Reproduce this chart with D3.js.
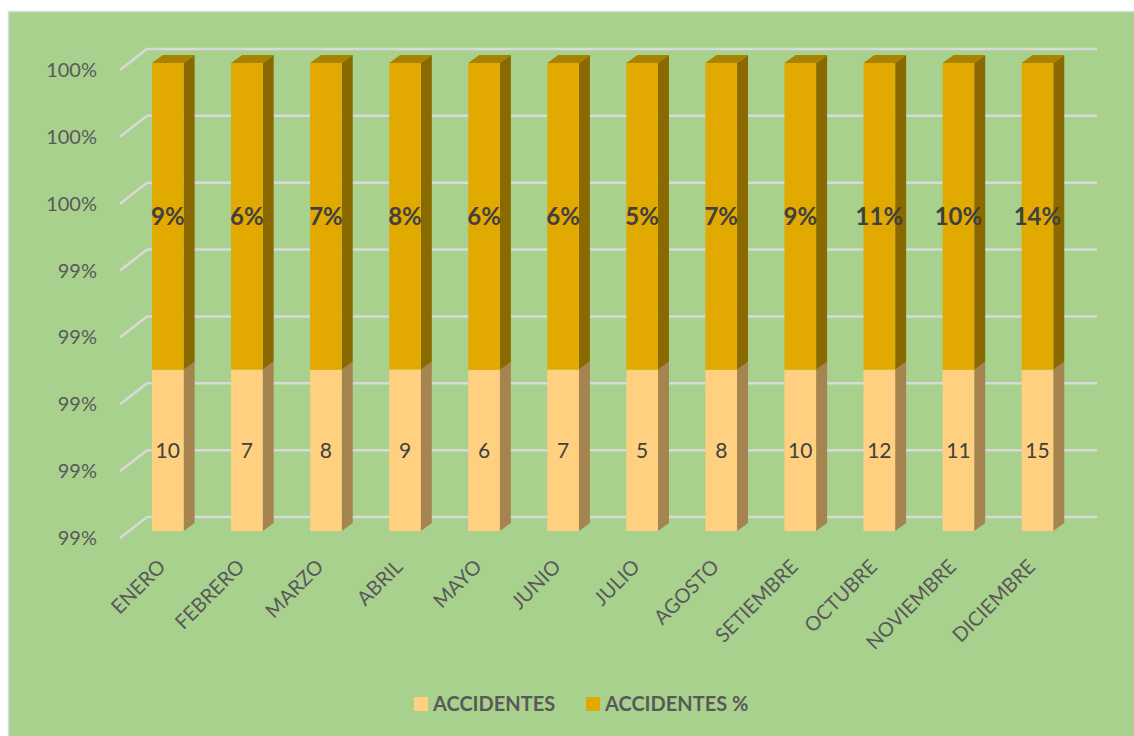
<!DOCTYPE html>
<html>
<head>
<meta charset="utf-8">
<script src="https://cdn.jsdelivr.net/npm/d3@7"></script>
<style>
  html, body { margin: 0; padding: 0; background: #ffffff; }
  svg { display: block; font-family: Lato, "Open Sans", sans-serif; }
</style>
</head>
<body>
<svg id="chart" width="1134" height="736"></svg>
<script>
// ---- data ----
const months = ["ENERO","FEBRERO","MARZO","ABRIL","MAYO","JUNIO","JULIO","AGOSTO","SETIEMBRE","OCTUBRE","NOVIEMBRE","DICIEMBRE"];
const accidentes = [10, 7, 8, 9, 6, 7, 5, 8, 10, 12, 11, 15];
const accidentesPct = [0.0926, 0.0648, 0.0741, 0.0833, 0.0556, 0.0648, 0.0463, 0.0741, 0.0926, 0.1111, 0.1019, 0.1389];
const yTicks = [0.986, 0.988, 0.990, 0.992, 0.994, 0.996, 0.998, 1.0];
const seriesNames = ["ACCIDENTES", "ACCIDENTES %"];

// ---- styling ----
const colLight = "#FFD07F", colLightSide = "#A5844F";
const colDark = "#E2AA00", colDarkSide = "#8A6A00", colDarkTop = "#A88200";
const bg = "#A9D18E", grid = "#D9D9D9";

const svg = d3.select("#chart");
svg.append("rect").attr("x", 8.5).attr("y", 11.5).attr("width", 1200).attr("height", 800)
  .attr("fill", bg).attr("stroke", grid).attr("stroke-width", 1.5);

// scales (front plane of the bars)
const y = d3.scaleLinear().domain([0.986, 1.0]).range([531, 63]);
const x = d3.scaleBand().domain(months).range([112.47, 1092.8]).paddingInner(0.6).paddingOuter(0.5);
const bw = x.bandwidth();
const depth = { dx: 11, dy: -8 };      // bar depth
const wallOff = -14;                    // back wall relative to bar front
const floor = { dx: -27, dy: 21 };      // back wall -> front edge

// gridlines
const gG = svg.append("g");
yTicks.forEach(t => {
  const yb = y(t) + wallOff;
  gG.append("path")
    .attr("d", `M${147 + floor.dx},${yb + floor.dy} L147,${yb} L1097,${yb}`)
    .attr("fill", "none").attr("stroke", grid).attr("stroke-width", 2.5);
});

// y tick labels
const fmt = d3.format(".0%");
svg.append("g").selectAll("text").data(yTicks).join("text")
  .attr("x", 97).attr("y", d => y(d) + wallOff + floor.dy).attr("dy", "0.35em")
  .attr("text-anchor", "end").attr("font-size", 20).attr("fill", "#595959")
  .text(d => fmt(d));

// stacked 100% data
const data = months.map((m, i) => {
  const tot = accidentes[i] + accidentesPct[i];
  return { m, a: accidentes[i], p: accidentesPct[i], share: accidentes[i] / tot };
});

const bars = svg.append("g");
data.forEach(d => {
  const x0 = x(d.m), x1 = x0 + bw;
  const yb = y(0.986), ys = y(d.share), yt = y(1.0);
  const g = bars.append("g");
  // light side
  g.append("path").attr("fill", colLightSide)
    .attr("d", `M${x1},${yb} L${x1 + depth.dx},${yb + depth.dy} L${x1 + depth.dx},${ys + depth.dy} L${x1},${ys}Z`);
  // light front
  g.append("rect").attr("x", x0).attr("y", ys).attr("width", bw).attr("height", yb - ys).attr("fill", colLight);
  // dark side
  g.append("path").attr("fill", colDarkSide)
    .attr("d", `M${x1},${ys} L${x1 + depth.dx},${ys + depth.dy} L${x1 + depth.dx},${yt + depth.dy} L${x1},${yt}Z`);
  // dark front
  g.append("rect").attr("x", x0).attr("y", yt).attr("width", bw).attr("height", ys - yt).attr("fill", colDark);
  // top
  g.append("path").attr("fill", colDarkTop)
    .attr("d", `M${x0},${yt} L${x0 + depth.dx},${yt + depth.dy} L${x1 + depth.dx},${yt + depth.dy} L${x1},${yt}Z`);
  // labels
  g.append("text").attr("x", x0 + bw / 2).attr("y", (yb + ys) / 2).attr("dy", "0.35em")
    .attr("text-anchor", "middle").attr("font-size", 21).attr("fill", "#404040").text(d.a);
  g.append("text").attr("x", x0 + bw / 2).attr("y", (ys + yt) / 2).attr("dy", "0.35em")
    .attr("text-anchor", "middle").attr("font-size", 24).attr("font-weight", "bold").attr("fill", "#404040")
    .text(fmt(d.p));
});

// category labels
svg.append("g").selectAll("text").data(months).join("text")
  .attr("transform", m => `translate(${x(m) + bw / 2 - 1},${568}) rotate(-45)`)
  .attr("text-anchor", "end").attr("font-size", 20).attr("fill", "#595959")
  .text(m => m);

// legend
const leg = svg.append("g");
const legItems = [{ name: seriesNames[0], c: colLight, x: 414 }, { name: seriesNames[1], c: colDark, x: 586 }];
legItems.forEach(it => {
  leg.append("rect").attr("x", it.x).attr("y", 697).attr("width", 14).attr("height", 14).attr("fill", it.c);
  leg.append("text").attr("x", it.x + 19).attr("y", 711).attr("font-size", 20).attr("font-weight", "bold")
    .attr("fill", "#595959").text(it.name);
});
</script>
</body>
</html>
